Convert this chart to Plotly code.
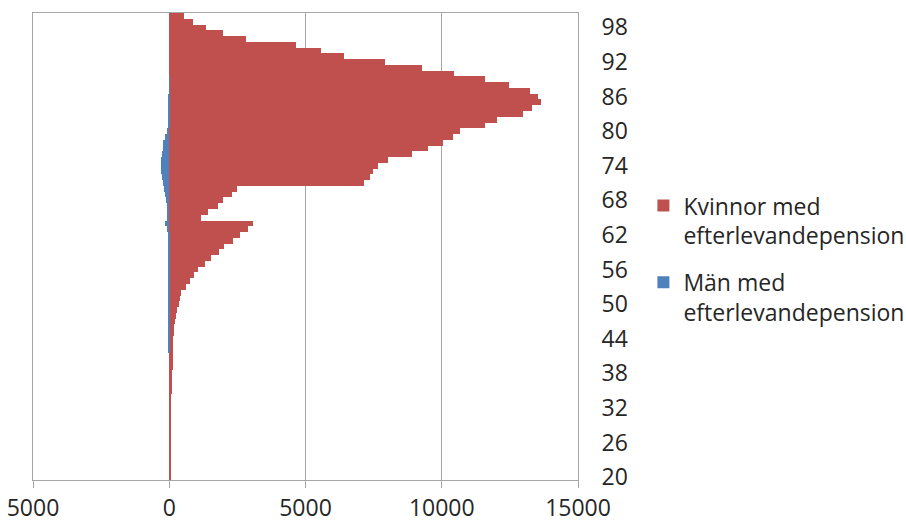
import plotly.graph_objects as go

ages = list(range(20, 101))

women = [30, 35, 40, 45, 50, 55, 60, 60, 65, 70, 70, 75, 75, 80, 80, 85, 90,   # 20-36
         110, 115, 120, 125, 130, 135, 140, 150,                                # 37-44
         160, 160, 200, 235, 280, 345, 390, 440, 600, 750,                      # 45-54
         895, 1060, 1300, 1540, 1820, 2000, 2337, 2600, 2874, 3082,             # 55-64
         1163, 1431, 1775, 1970, 2300, 2484,                                    # 65-70
         7131, 7373, 7461, 7656, 8034, 8914, 9490, 10040, 10418, 10664,         # 71-80
         11592, 12021, 12964, 13330, 13624, 13525, 13243, 12450, 11592, 10455,  # 81-90
         9290, 7925, 6420, 5576, 4637, 2813, 1958, 1357, 880, 528]              # 91-100

men = [0] * 22 + \
      [-55, -55, -55, -55, -55, -55, -55, -55, -55, -55, -55,                   # 42-52
       -20, -20,                                                                # 53-54
       -50, -50, -50, -50, -50, -50, -50, -50, -85, -160,                       # 55-64
       -100, -75, -100, -120, -170, -210, -245, -280, -290, -295,               # 65-74
       -290, -270, -245, -220, -150, -100, -50, -30, -20, -15,                  # 75-84
       -10, -10, -5, -5, -5, 0, 0, 0, 0, 0, 0, 0, 0, 0, 0, 0]                    # 85-100

x_tickvals = [-5000, 0, 5000, 10000, 15000]
x_ticktext = ["5000", "0", "5000", "10000", "15000"]
y_tickvals = list(range(20, 100, 6))

red = "#C0504D"
blue = "#4F81BD"
grid = "#A6A6A6"
font = "Open Sans"

fig = go.Figure()
fig.add_trace(go.Bar(y=ages, x=women, orientation="h", name="Kvinnor med<br>efterlevandepension",
                     legendgroup="k", marker=dict(color=red, line=dict(width=0)), width=1))
fig.add_trace(go.Bar(y=ages, x=men, orientation="h", name="Män med<br>efterlevandepension",
                     legendgroup="m", marker=dict(color=blue, line=dict(width=0)), width=1))

fig.update_layout(
    width=906, height=526,
    margin=dict(l=33, r=328, t=13, b=46, autoexpand=False),
    paper_bgcolor="white", plot_bgcolor="white",
    barmode="relative", bargap=0,
    font=dict(family=font, size=23, color="#262626"),
    legend=dict(x=1.12, xanchor="left", y=0.473, yanchor="middle",
                traceorder="grouped", font=dict(size=23), tracegroupgap=14,
                valign="top", itemwidth=30),
    showlegend=True,
)
fig.update_xaxes(range=[-5000, 15000], tickvals=x_tickvals, ticktext=x_ticktext,
                 showgrid=True, gridcolor=grid, gridwidth=1,
                 zeroline=True, zerolinecolor="#8C8C8C", zerolinewidth=1,
                 showline=True, linecolor=grid, linewidth=1, mirror=True,
                 ticks="outside", ticklen=7, tickcolor=grid, automargin=False)
fig.update_yaxes(range=[19.5, 100.5], tickvals=y_tickvals, side="right",
                 showgrid=False, zeroline=False,
                 showline=True, linecolor=grid, linewidth=1, mirror=True,
                 ticks="", ticklabelstandoff=18, automargin=False)

fig.write_html("out.html", config={"displayModeBar": False},
               post_script="document.body.style.margin='0';document.body.style.padding='0';")
